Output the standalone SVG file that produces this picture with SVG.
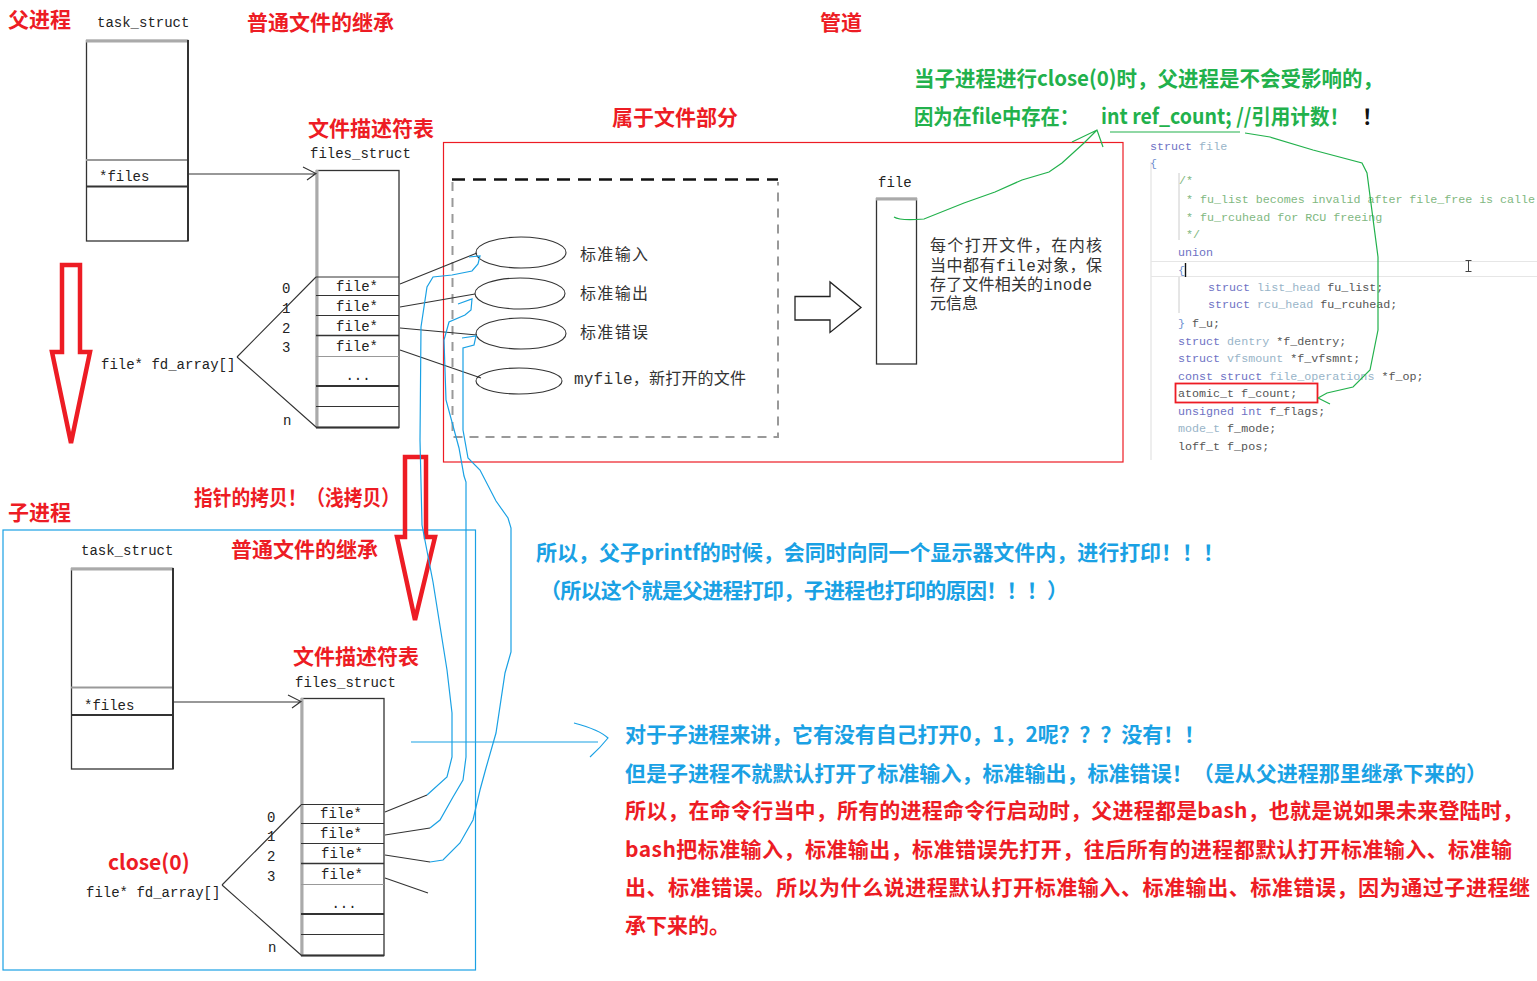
<svg xmlns="http://www.w3.org/2000/svg" width="1537" height="981" viewBox="0 0 1537 981">
<style>
.t{font-family:"Noto Sans CJK SC","Liberation Sans",sans-serif;font-weight:bold;font-size:21px}
.red{fill:#ed1c24}
.blue{fill:#1aa1e4}
.green{fill:#22b14c}
.m{font-family:"Liberation Mono","Noto Sans CJK SC",monospace;font-size:14px;fill:#222}
.cn{font-family:"Liberation Mono","Noto Sans CJK SC",monospace;font-size:16px;fill:#333}
.box{fill:none;stroke:#333;stroke-width:1.3}
.gl{stroke:#aaa;stroke-width:3}
.ln{fill:none;stroke:#333;stroke-width:1.1}
.bl{fill:none;stroke:#1aa1e4;stroke-width:1.2}
.gr{fill:none;stroke:#22b14c;stroke-width:1.2}
.ra{fill:none;stroke:#ed1c24;stroke-width:4.5;stroke-linejoin:miter}
.code{font-family:"Liberation Mono","DejaVu Sans Mono",monospace;font-size:11.7px;fill:#555}
.kw{fill:#6e72c4}.ty{fill:#98b4c8}.cm{fill:#7fb87f}.br{fill:#6e8fd0}
</style>
<rect width="1537" height="981" fill="#fff"/>

<!-- titles -->
<g id="titles">
<text class="t red" x="8" y="27">父进程</text>
<text class="t red" x="247" y="30">普通文件的继承</text>
<text class="t red" x="820" y="30">管道</text>
<text class="t red" x="612" y="125">属于文件部分</text>
<text class="t red" x="308" y="136">文件描述符表</text>
<text class="t red" x="8" y="520">子进程</text>
<text class="t red" x="194" y="505" textLength="206" lengthAdjust="spacingAndGlyphs">指针的拷贝！（浅拷贝）</text>
<text class="t red" x="231" y="557">普通文件的继承</text>
<text class="t red" x="293" y="664">文件描述符表</text>
<text class="t red" x="108" y="870">close(0)</text>
</g>

<!-- parent task_struct -->
<g id="parent_task">
<text class="m" x="97" y="27">task_struct</text>
<rect class="box" x="86.5" y="40.5" width="101.5" height="200.5"/>
<line x1="86" y1="41" x2="188" y2="41" class="gl"/>
<line x1="86" y1="160" x2="188" y2="160" stroke="#999" stroke-width="2"/>
<line x1="86" y1="186.5" x2="188" y2="186.5" stroke="#333" stroke-width="2"/>
<line x1="188" y1="40" x2="188" y2="241" stroke="#333" stroke-width="2"/>
<text class="m" x="99" y="181">*files</text>
</g>

<!-- parent files_struct -->
<g id="parent_files">
<text class="m" x="310" y="158">files_struct</text>
<rect class="box" x="316.5" y="170.5" width="82.5" height="257"/>
<line x1="317" y1="170" x2="317" y2="428" class="gl"/>
<line x1="316" y1="277" x2="399" y2="277" stroke="#333"/>
<line x1="316" y1="295.5" x2="399" y2="295.5" stroke="#333"/>
<line x1="316" y1="315.5" x2="399" y2="315.5" stroke="#333"/>
<line x1="316" y1="335.5" x2="399" y2="335.5" stroke="#333" stroke-width="1.6"/>
<line x1="316" y1="356.5" x2="399" y2="356.5" stroke="#999"/>
<line x1="316" y1="386" x2="399" y2="386" stroke="#333" stroke-width="2"/>
<line x1="316" y1="406.5" x2="399" y2="406.5" stroke="#333"/>
<line x1="316" y1="427.5" x2="399" y2="427.5" stroke="#333" stroke-width="2"/>
<text class="m" x="357" y="291" text-anchor="middle">file*</text>
<text class="m" x="357" y="311" text-anchor="middle" fill="#666">file*</text>
<text class="m" x="357" y="331" text-anchor="middle">file*</text>
<text class="m" x="357" y="351" text-anchor="middle">file*</text>
<text class="m" x="358" y="380" text-anchor="middle">...</text>
<text class="m" x="282" y="293">0</text>
<text class="m" x="282" y="313">1</text>
<text class="m" x="282" y="333">2</text>
<text class="m" x="282" y="352">3</text>
<text class="m" x="283" y="425">n</text>
<text class="m" x="101" y="369">file* fd_array[]</text>
</g>

<!-- child -->
<rect id="child_frame" x="3" y="530" width="472.5" height="440" fill="none" stroke="#1aa1e4" stroke-width="1.2"/>
<g id="child_task">
<text class="m" x="81" y="555">task_struct</text>
<rect class="box" x="71.5" y="568.5" width="101.5" height="200.5"/>
<line x1="71" y1="569" x2="173" y2="569" class="gl"/>
<line x1="71" y1="687.5" x2="173" y2="687.5" stroke="#999" stroke-width="2"/>
<line x1="71" y1="715" x2="173" y2="715" stroke="#333" stroke-width="2"/>
<line x1="173" y1="568" x2="173" y2="769" stroke="#333" stroke-width="2"/>
<text class="m" x="84" y="710">*files</text>
</g>
<g id="child_files">
<text class="m" x="295" y="687">files_struct</text>
<rect class="box" x="301.5" y="698.5" width="82.5" height="257"/>
<line x1="302" y1="698" x2="302" y2="956" class="gl"/>
<line x1="301" y1="804.5" x2="384" y2="804.5" stroke="#333"/>
<line x1="301" y1="823.5" x2="384" y2="823.5" stroke="#333"/>
<line x1="301" y1="843.5" x2="384" y2="843.5" stroke="#333"/>
<line x1="301" y1="863.5" x2="384" y2="863.5" stroke="#333" stroke-width="1.6"/>
<line x1="301" y1="884.5" x2="384" y2="884.5" stroke="#999"/>
<line x1="301" y1="914" x2="384" y2="914" stroke="#333" stroke-width="2"/>
<line x1="301" y1="934.5" x2="384" y2="934.5" stroke="#333"/>
<line x1="301" y1="955.5" x2="384" y2="955.5" stroke="#333" stroke-width="2"/>
<text class="m" x="341" y="818" text-anchor="middle">file*</text>
<text class="m" x="341" y="838" text-anchor="middle" fill="#555">file*</text>
<text class="m" x="342" y="858" text-anchor="middle">file*</text>
<text class="m" x="342" y="879" text-anchor="middle">file*</text>
<text class="m" x="344" y="908" text-anchor="middle">...</text>
<text class="m" x="267" y="822">0</text>
<text class="m" x="267" y="841">1</text>
<text class="m" x="267" y="861">2</text>
<text class="m" x="267" y="881">3</text>
<text class="m" x="268" y="952">n</text>
<text class="m" x="86" y="897">file* fd_array[]</text>
</g>

<!-- file objects region -->
<rect id="file_part" x="443.5" y="142.5" width="679.5" height="319.5" fill="none" stroke="#ed1c24" stroke-width="1.2"/>
<g id="dashed_group">
<line x1="452" y1="179.5" x2="778" y2="179.5" stroke="#111" stroke-width="2.5" stroke-dasharray="13,8"/>
<path d="M452.5,182 V437 H778 V182" fill="none" stroke="#999" stroke-width="2" stroke-dasharray="9,7"/>
</g>
<g id="stdin"><ellipse cx="521" cy="252.5" rx="45" ry="15.5" class="ln"/><text class="cn" x="580" y="260" textLength="68">标准输入</text></g>
<g id="stdout"><ellipse cx="520" cy="293.5" rx="45" ry="15.5" class="ln"/><text class="cn" x="580" y="299" textLength="68">标准输出</text></g>
<g id="stderr"><ellipse cx="521" cy="333.5" rx="45" ry="15.5" class="ln"/><text class="cn" x="580" y="338" textLength="68">标准错误</text></g>
<g id="myfile"><ellipse cx="519" cy="381" rx="43" ry="13" class="ln"/><text class="cn" x="574" y="384" textLength="172">myfile，新打开的文件</text></g>
<g id="big_arrow"><path d="M795,296.5 H830 V282 L861,307.5 L830,332.5 V320 H795 Z" fill="#fff" stroke="#222" stroke-width="1.3"/></g>
<g id="file_obj">
<text class="m" x="878" y="187">file</text>
<rect class="box" x="876.5" y="198.5" width="40" height="165.5"/>
<line x1="876" y1="199" x2="917" y2="199" class="gl"/>
<text class="cn" x="930" y="251" textLength="172">每个打开文件，在内核</text>
<text class="cn" x="930" y="271" textLength="172">当中都有file对象，保</text>
<text class="cn" x="930" y="290" textLength="162">存了文件相关的inode</text>
<text class="cn" x="930" y="309">元信息</text>
</g>

<!-- green note -->
<g id="green_note">
<text class="t green" x="914" y="86" textLength="469" lengthAdjust="spacingAndGlyphs">当子进程进行close(0)时，父进程是不会受影响的，</text>
<text class="t green" x="914" y="124" textLength="165" lengthAdjust="spacingAndGlyphs">因为在file中存在：</text>
<text class="t green" x="1101" y="124" font-size="19" textLength="248" lengthAdjust="spacingAndGlyphs">int ref_count; //引用计数！</text>
<text class="t" x="1362" y="124" fill="#111">！</text>
</g>

<!-- code -->
<g id="code_file">
<line x1="1151" y1="162" x2="1151" y2="460" stroke="#ddd"/>
<line x1="1179" y1="173" x2="1179" y2="240" stroke="#ccc"/>
<line x1="1179" y1="277" x2="1179" y2="313" stroke="#ccc"/>
<line x1="1151" y1="261.5" x2="1537" y2="261.5" stroke="#e6e6e6"/>
<line x1="1151" y1="276.5" x2="1537" y2="276.5" stroke="#e6e6e6"/>
<text class="code" x="1150" y="150"><tspan class="kw">struct</tspan> <tspan class="ty">file</tspan></text>
<text class="code br" x="1150" y="167">{</text>
<text class="code cm" x="1179" y="184">/*</text>
<text class="code cm" x="1186" y="203" textLength="349">* fu_list becomes invalid after file_free is calle</text>
<text class="code cm" x="1186" y="221">* fu_rcuhead for RCU freeing</text>
<text class="code cm" x="1186" y="238">*/</text>
<text class="code kw" x="1178" y="256">union</text>
<text class="code br" x="1178" y="274">{</text>
<line x1="1185.5" y1="263" x2="1185.5" y2="277" stroke="#111" stroke-width="1.4"/>
<path d="M1465.5,260.5 h6 M1468.5,260.5 v11 M1465.5,271.5 h6" fill="none" stroke="#444"/>
<text class="code" x="1208" y="291"><tspan class="kw">struct</tspan> <tspan class="ty">list_head</tspan> fu_list;</text>
<text class="code" x="1208" y="308"><tspan class="kw">struct</tspan> <tspan class="ty">rcu_head</tspan> fu_rcuhead;</text>
<text class="code" x="1178" y="327"><tspan class="br">}</tspan> f_u;</text>
<text class="code" x="1178" y="345"><tspan class="kw">struct</tspan> <tspan class="ty">dentry</tspan> *f_dentry;</text>
<text class="code" x="1178" y="362"><tspan class="kw">struct</tspan> <tspan class="ty">vfsmount</tspan> *f_vfsmnt;</text>
<text class="code" x="1178" y="380"><tspan class="kw">const struct</tspan> <tspan class="ty">file_operations</tspan> *f_op;</text>
<text class="code" x="1178" y="397">atomic_t f_count;</text>
<rect x="1175.5" y="383.5" width="142" height="19" fill="none" stroke="#ed1c24" stroke-width="1.8"/>
<text class="code" x="1178" y="415"><tspan class="kw">unsigned int</tspan> f_flags;</text>
<text class="code" x="1178" y="432"><tspan class="ty">mode_t</tspan> f_mode;</text>
<text class="code" x="1178" y="450">loff_t f_pos;</text>
</g>

<!-- red arrows -->
<g id="copy_arrows">
<path class="ra" d="M62,265 H80 V352 H90 L71,443 L52,352 H62 Z"/>
<path class="ra" d="M405,457 H426 V537 H435 L415,620 L397,537 H405 Z"/>
</g>

<!-- explanation texts -->
<g id="notes">
<text class="t blue" x="536" y="560" textLength="688">所以，父子printf的时候，会同时向同一个显示器文件内，进行打印！！！</text>
<text class="t blue" x="540" y="598" textLength="528">（所以这个就是父进程打印，子进程也打印的原因！！！）</text>
<text class="t blue" x="625" y="742" textLength="580">对于子进程来讲，它有没有自己打开0，1，2呢？？？没有！！</text>
<text class="t blue" x="625" y="781" textLength="862">但是子进程不就默认打开了标准输入，标准输出，标准错误！（是从父进程那里继承下来的）</text>
<text class="t red" x="625" y="818" textLength="898">所以，在命令行当中，所有的进程命令行启动时，父进程都是bash，也就是说如果未来登陆时，</text>
<text class="t red" x="625" y="857" textLength="887">bash把标准输入，标准输出，标准错误先打开，往后所有的进程都默认打开标准输入、标准输</text>
<text class="t red" x="625" y="895" textLength="905">出、标准错误。所以为什么说进程默认打开标准输入、标准输出、标准错误，因为通过子进程继</text>
<text class="t red" x="625" y="933">承下来的。</text>
</g>

<!-- connectors -->
<g id="connectors">
<path class="ln" d="M188,174 H316 M303,167 L316,173.5 L307,180"/>
<path class="ln" d="M173,702 H301 M288,695 L301,701.5 L292,708"/>
<path class="ln" d="M237,357 L316,277 M237,357 L316,427"/>
<path class="ln" d="M222,885 L301,805 M222,885 L301,955"/>
<path class="ln" d="M400,284 L477,253 M400,307 L475,294 M400,328 L477,335 M400,350 L481,378"/>
<path class="ln" d="M385,812 L427,795 M385,835 L430,828 M385,855 L430,862 M385,878 L428,893"/>
<path class="bl" d="M469,257 L480,256 L478,264 L472,271 L452,275 L433,277 L427,287 L421,327 L420,440 L422,525 L433,582 L447,670 L452,713 L452,757 L447,777 L427,795"/>
<path class="bl" d="M458,304 L472,299 L471,310 L465,315 L449,322 L444,340 L446,400 L459,448 L464,476 L466,482 L466,757 L463,780 L453,797 L440,820 L430,828"/>
<path class="bl" d="M462,338 L476,336 L474,345 L463,348 L463,430 L468,458 L480,470 L496,501 L508,518 L511,528 L511,652 L505,673 L496,733 L486,768 L480,790 L473,820 L460,843 L443,860 L430,862"/>
<path class="bl" d="M411,742 H598 M574,723 Q600,730 608,738 Q600,748 590,757"/>
<path class="gr" d="M894,217 Q900,221 924,219 L964,203 L995,192 L1022,180 L1049,172 L1062,163 L1084,143 L1097,130 M1072,142 L1097,130 L1103,147"/>
<path class="gr" d="M1110,132 H1240"/>
<path class="gr" d="M1245,133 L1270,137 L1313,150 L1362,163 L1367,173 L1378,257 L1378,330 L1370,370 L1353,387 L1327,393 L1318,398 M1318,398 L1330,404"/>
</g>
</svg>
